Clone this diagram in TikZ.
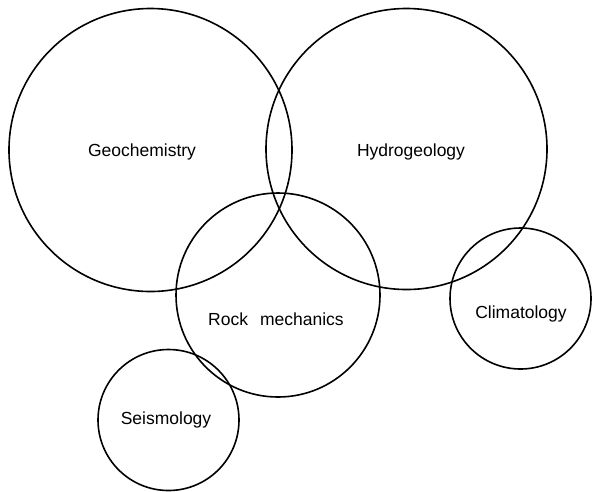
\documentclass[tikz,border=0pt]{standalone}
\usepackage{fontspec}
\setmainfont{Liberation Sans}
\begin{document}
\begin{tikzpicture}[x=1pt,y=-1pt,
  ring/.style={circle,draw=black,line width=1.6pt,inner sep=0pt},
  lab/.style={font=\fontsize{17.5}{20}\selectfont,inner sep=0pt}]
\useasboundingbox (0,0) rectangle (593,491);
\node[ring,minimum size=283pt] (geo) at (150.5,150) {};
\node[ring,minimum size=281pt] (hyd) at (406.5,149) {};
\node[ring,minimum size=204pt] (rock) at (278,295) {};
\node[ring,minimum size=141pt] (clim) at (520.5,298.5) {};
\node[ring,minimum size=141pt] (seis) at (168.5,420) {};
\node[lab] (geot) at (142,152) {Geochemistry};
\node[lab] (hydt) at (411,152) {Hydrogeology};
\node[lab] (rockt) at (276,319) {Rock\hspace{12pt}mechanics};
\node[lab] (climt) at (521,314) {Climatology};
\node[lab] (seist) at (166,420) {Seismology};
\end{tikzpicture}
\end{document}
